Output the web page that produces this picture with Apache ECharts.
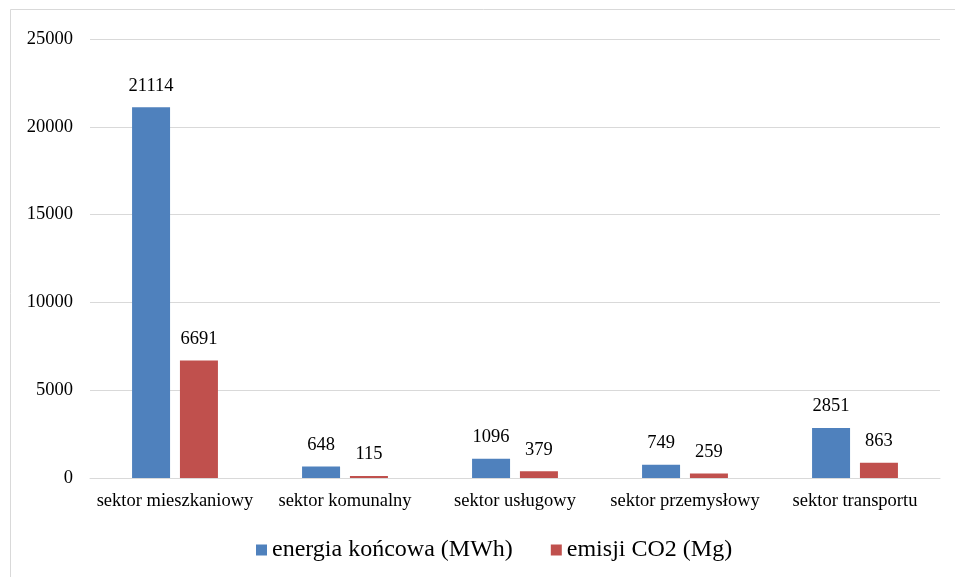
<!DOCTYPE html>
<html><head><meta charset="utf-8">
<script src="https://cdn.jsdelivr.net/npm/echarts@6/dist/echarts.min.js"></script>
<style>html,body{margin:0;padding:0;background:#fff}#c{width:955px;height:577px}</style>
</head><body><div id="c"></div>
<script>
const categories = ['sektor mieszkaniowy','sektor komunalny','sektor usługowy','sektor przemysłowy','sektor transportu'];
const energia = [21114, 648, 1096, 749, 2851];
const emisja = [6691, 115, 379, 259, 863];
const seriesNames = ['energia końcowa (MWh)', 'emisji CO2 (Mg)'];
const yTicks = {min: 0, max: 25000, interval: 5000};

const font = '"Liberation Serif", "Times New Roman", serif';
const chart = echarts.init(document.getElementById('c'), null, {renderer: 'canvas'});
const lbl = {show: true, position: 'top', distance: 12, color: '#000', fontFamily: font, fontSize: 18.5};
chart.setOption({
  animation: false,
  backgroundColor: '#fff',
  graphic: [{type: 'polyline', shape: {points: [[10.5, 600], [10.5, 9.5], [1000, 9.5]]}, style: {stroke: '#d9d9d9', lineWidth: 1, fill: null}, silent: true}],
  grid: {left: 90, right: 15, top: 39, bottom: 99},
  legend: {
    bottom: 10, left: 251, itemWidth: 11, itemHeight: 11, itemGap: 38,
    icon: 'rect',
    textStyle: {fontFamily: font, fontSize: 24, color: '#000', padding: [0, 0, 0, 0]},
    data: seriesNames
  },
  xAxis: {
    type: 'category', data: categories,
    axisLine: {lineStyle: {color: '#d9d9d9', width: 1}},
    axisTick: {show: false},
    axisLabel: {color: '#000', fontFamily: font, fontSize: 18.5, margin: 14, interval: 0}
  },
  yAxis: {
    type: 'value', min: yTicks.min, max: yTicks.max, interval: yTicks.interval,
    axisLine: {show: false}, axisTick: {show: false},
    splitLine: {lineStyle: {color: '#d9d9d9', width: 1}},
    axisLabel: {color: '#000', fontFamily: font, fontSize: 18.5, margin: 17, formatter: v => String(v)}
  },
  series: [
    {name: seriesNames[0], type: 'bar', data: energia, barWidth: 38, barGap: '26%', itemStyle: {color: '#4F81BD'}, label: lbl},
    {name: seriesNames[1], type: 'bar', data: emisja, barWidth: 38, itemStyle: {color: '#C0504D'}, label: lbl}
  ]
});
</script></body></html>
